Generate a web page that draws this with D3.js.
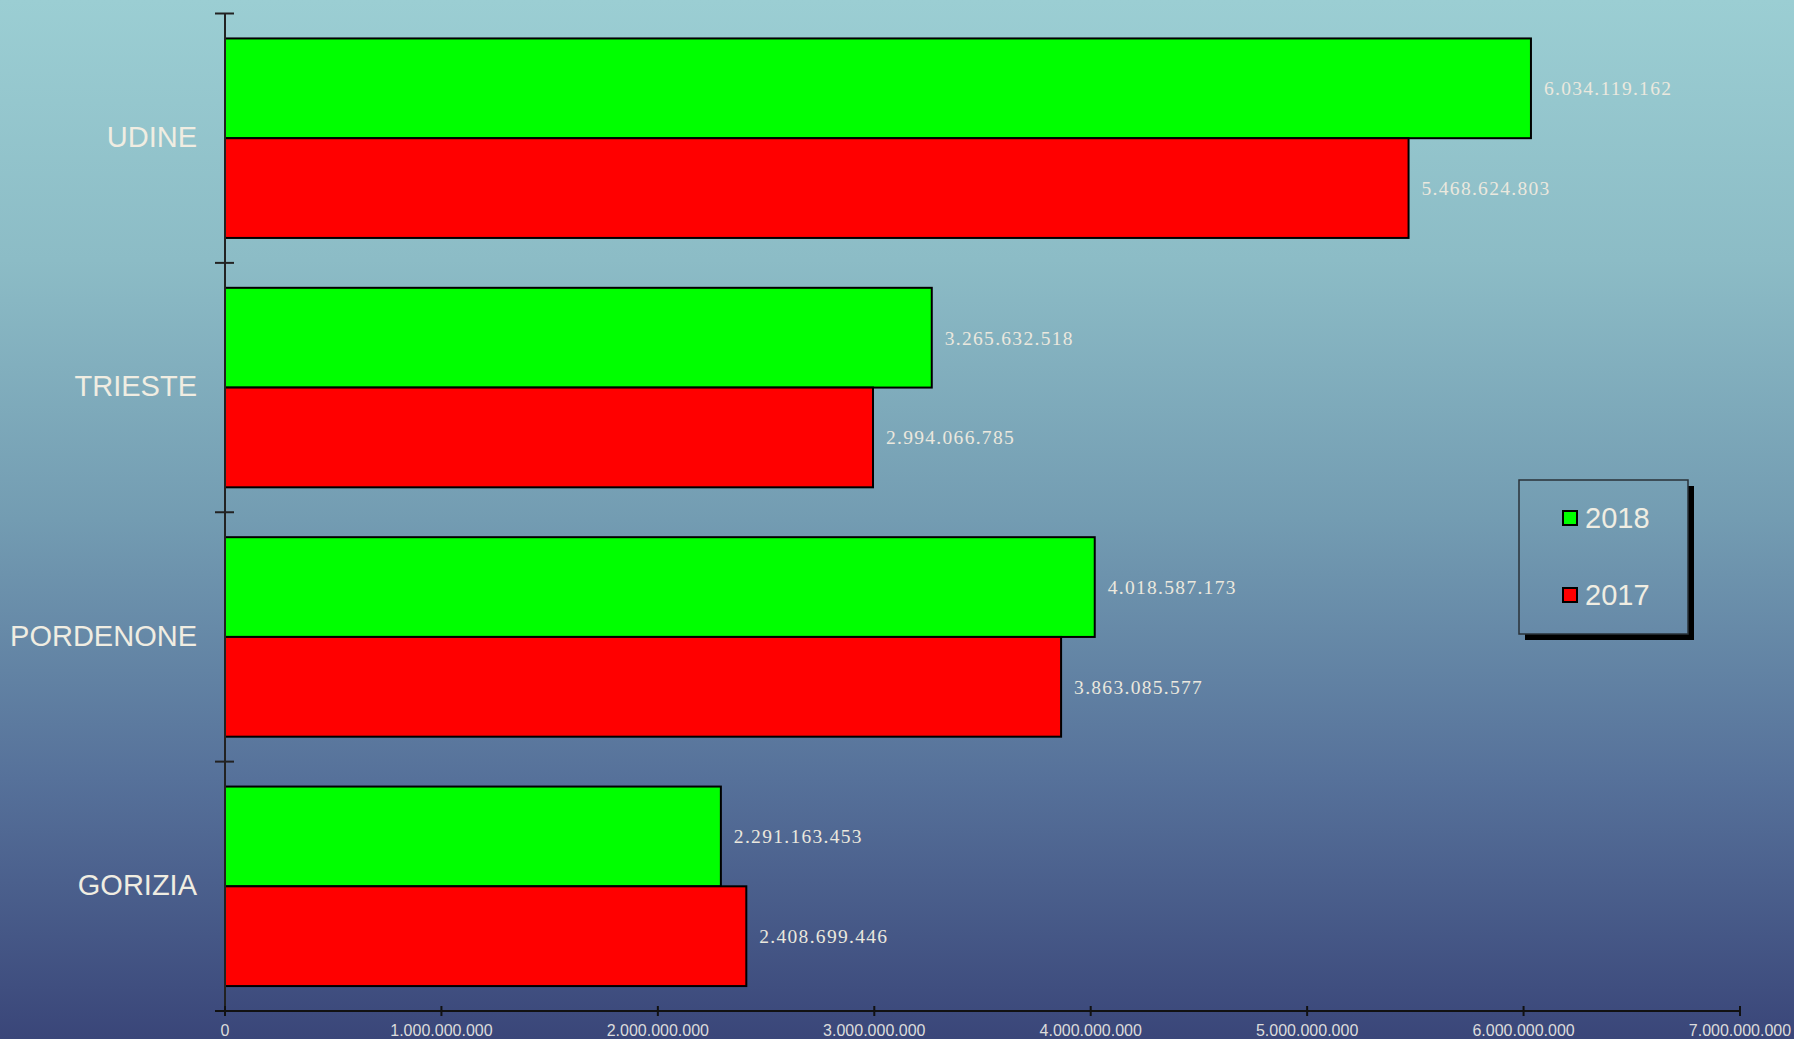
<!DOCTYPE html>
<html>
<head>
<meta charset="utf-8">
<script src="https://cdn.jsdelivr.net/npm/d3@7"></script>
<style>
  html, body { margin: 0; padding: 0; overflow: hidden; }
  svg { display: block; }
</style>
</head>
<body>
<svg id="chart" width="1794" height="1039"></svg>
<script>
// Province totals, two years
const categories = ["UDINE", "TRIESTE", "PORDENONE", "GORIZIA"];
const years = ["2018", "2017"];
const values2018 = [6034119162, 3265632518, 4018587173, 2291163453];
const values2017 = [5468624803, 2994066785, 3863085577, 2408699446];
const xTicks = [0, 1e9, 2e9, 3e9, 4e9, 5e9, 6e9, 7e9];
const colors = { "2018": "#00ff00", "2017": "#ff0000" };

const W = 1794, H = 1039;
const svg = d3.select("#chart");

// background gradient (shared by legend box so its fill blends in)
const defs = svg.append("defs");
const grad = defs.append("linearGradient")
  .attr("id", "bg").attr("gradientUnits", "userSpaceOnUse")
  .attr("x1", 0).attr("y1", 0).attr("x2", 0).attr("y2", H);
grad.append("stop").attr("offset", 0).attr("stop-color", "#9bced3");
grad.append("stop").attr("offset", 0.25).attr("stop-color", "#8cbcc6");
grad.append("stop").attr("offset", 0.5).attr("stop-color", "#739cb2");
grad.append("stop").attr("offset", 0.75).attr("stop-color", "#56719a");
grad.append("stop").attr("offset", 1).attr("stop-color", "#3a4679");
svg.append("rect").attr("width", W).attr("height", H).attr("fill", "url(#bg)");

const x = d3.scaleLinear().domain([0, 7e9]).range([225, 1740]);
const y = d3.scaleBand().domain(categories).range([13.5, 1011]).padding(0);
const inner = d3.scaleBand().domain(years)
  .range([y.bandwidth() * 0.1, y.bandwidth() * 0.9]).padding(0);

const fmt = v => d3.format(",")(v).replace(/,/g, ".");

const rows = categories.map((c, i) => ({
  cat: c,
  bars: [
    { year: "2018", value: values2018[i] },
    { year: "2017", value: values2017[i] }
  ]
}));

const groups = svg.append("g").selectAll("g").data(rows).join("g")
  .attr("transform", d => `translate(0,${y(d.cat)})`);

groups.selectAll("rect").data(d => d.bars).join("rect")
  .attr("x", x(0))
  .attr("y", d => inner(d.year))
  .attr("width", d => x(d.value) - x(0))
  .attr("height", inner.bandwidth())
  .attr("fill", d => colors[d.year])
  .attr("stroke", "#000").attr("stroke-width", 2);

groups.selectAll("text.val").data(d => d.bars).join("text")
  .attr("class", "val")
  .attr("x", d => x(d.value) + 13)
  .attr("y", d => inner(d.year) + inner.bandwidth() / 2)
  .attr("dy", "0.35em")
  .attr("font-family", "'Liberation Serif', 'Times New Roman', serif")
  .attr("font-size", 19.5)
  .attr("letter-spacing", "1.3px")
  .attr("fill", "#ebe8de")
  .text(d => fmt(d.value));

// category labels
svg.append("g").selectAll("text").data(categories).join("text")
  .attr("x", 197)
  .attr("y", d => y(d) + y.bandwidth() / 2)
  .attr("dy", "0.3em")
  .attr("text-anchor", "end")
  .attr("font-family", "'Liberation Sans', Arial, sans-serif")
  .attr("font-size", 29)
  .attr("fill", "#f0ede2")
  .text(d => d);

// left axis with ticks at band boundaries
const leftAxis = svg.append("g");
leftAxis.append("line")
  .attr("x1", x(0)).attr("x2", x(0))
  .attr("y1", y.range()[0]).attr("y2", y.range()[1])
  .attr("stroke", "#222").attr("stroke-width", 2);
const bounds = categories.map(c => y(c)).concat([y.range()[1]]);
leftAxis.selectAll("line.tick").data(bounds).join("line")
  .attr("class", "tick")
  .attr("x1", x(0) - 10).attr("x2", x(0) + 9)
  .attr("y1", d => d).attr("y2", d => d)
  .attr("stroke", "#222").attr("stroke-width", 2);

// bottom axis
const axisY = y.range()[1];
const bottom = svg.append("g").attr("transform", `translate(0,${axisY})`);
bottom.append("line")
  .attr("x1", x(0) - 10).attr("x2", x(7e9))
  .attr("stroke", "#111").attr("stroke-width", 2);
bottom.selectAll("line.tick").data(xTicks).join("line")
  .attr("class", "tick")
  .attr("x1", d => x(d)).attr("x2", d => x(d))
  .attr("y1", -5).attr("y2", 5)
  .attr("stroke", "#111").attr("stroke-width", 2);
bottom.selectAll("text").data(xTicks).join("text")
  .attr("x", d => x(d))
  .attr("y", 25)
  .attr("text-anchor", "middle")
  .attr("font-family", "'Liberation Sans', Arial, sans-serif")
  .attr("font-size", 16)
  .attr("fill", "#dcdcdc")
  .text(d => fmt(d));

// legend with drop shadow; box drawn in page coordinates so the gradient lines up
const LX = 1519, LY = 480, LW = 169, LH = 154;
svg.append("rect").attr("x", LX + 6).attr("y", LY + 6).attr("width", LW).attr("height", LH)
  .attr("fill", "#000");
svg.append("rect").attr("x", LX).attr("y", LY).attr("width", LW).attr("height", LH)
  .attr("fill", "url(#bg)").attr("stroke", "#2a3238").attr("stroke-width", 1.5);
const items = svg.append("g").selectAll("g.item").data(years).join("g")
  .attr("class", "item")
  .attr("transform", (d, i) => `translate(${LX + 44},${LY + 31 + i * 77})`);
items.append("rect").attr("x", 0).attr("y", 0).attr("width", 14).attr("height", 14)
  .attr("fill", d => colors[d]).attr("stroke", "#000").attr("stroke-width", 2);
items.append("text")
  .attr("x", 22).attr("y", 7).attr("dy", "0.35em")
  .attr("font-family", "'Liberation Sans', Arial, sans-serif")
  .attr("font-size", 29)
  .attr("fill", "#f0ede2")
  .text(d => d);
</script>
</body>
</html>
